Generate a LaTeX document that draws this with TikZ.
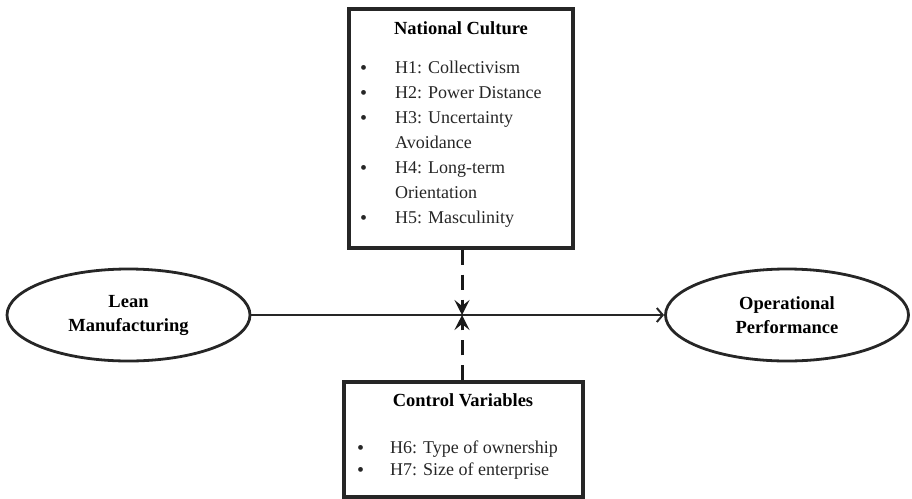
\documentclass[tikz,border=0pt]{standalone}
\usepackage{fontspec}
\setmainfont{Liberation Serif}
\usetikzlibrary{arrows.meta,shapes.geometric}
\newcommand\bulmark{\makebox[0pt][l]{\raisebox{-1pt}{\fontsize{20}{21}\selectfont\textbullet}}}
\begin{document}
\begin{tikzpicture}[x=1pt,y=-1pt,
  boxed/.style={draw=black!85, line width=3.2pt, minimum width=#1, inner sep=0pt},
  oval/.style={draw=black!85, ellipse, line width=2.8pt, minimum width=243pt, minimum height=92pt, inner sep=0pt},
  titletext/.style={font=\fontsize{18.5}{24}\selectfont\bfseries, align=center, inner sep=0pt},
  listtext/.style={font=\fontsize{18}{25}\selectfont, align=left, anchor=north west, inner sep=0pt, text=black!85},
  dasharrow/.style={draw=black!90, line width=3pt, dash pattern=on 15pt off 10pt, -{Stealth[length=15pt,width=15pt,inset=6pt]}},
  mainarrow/.style={draw=black!85, line width=2pt, -{Straight Barb[length=6pt,width=14pt,line width=2pt]}}
]
\useasboundingbox (0,0) rectangle (912,498);

% National Culture box
\node[boxed=224pt, minimum height=239pt] (nc) at (461,128.5) {};
\node[titletext] (nct) at (461,28) {National Culture};
\node[listtext] (ncl) at (360,61) {%
\makebox[35pt][l]{\bulmark}H1: Collectivism\\
\makebox[35pt][l]{\bulmark}H2: Power Distance\\
\makebox[35pt][l]{\bulmark}H3: Uncertainty\\
\makebox[35pt][l]{}Avoidance\\
\makebox[35pt][l]{\bulmark}H4: Long-term\\
\makebox[35pt][l]{}Orientation\\
\makebox[35pt][l]{\bulmark}H5: Masculinity};

% Control Variables box
\node[boxed=239pt, minimum height=115pt] (cv) at (463.5,439.5) {};
\node[titletext] (cvt) at (463,400) {Control Variables};
\node[listtext, font=\fontsize{18}{21.5}\selectfont] (cvl) at (357,441) {%
\makebox[33pt][l]{\bulmark}H6: Type of ownership\\
\makebox[33pt][l]{\bulmark}H7: Size of enterprise};

% Ellipses
\node[oval, titletext] (lm) at (128.5,315) {Lean\\Manufacturing};
\node[oval, titletext] (op) at (787,315) {Operational\\Performance};

% Connectors
\coordinate (mid) at (462,315);
\draw[mainarrow] (lm.east) -- (op.west);
\draw[dasharrow] (nc.south -| mid) -- (mid);
\draw[dasharrow] (cv.north -| mid) -- (mid);
\end{tikzpicture}
\end{document}
